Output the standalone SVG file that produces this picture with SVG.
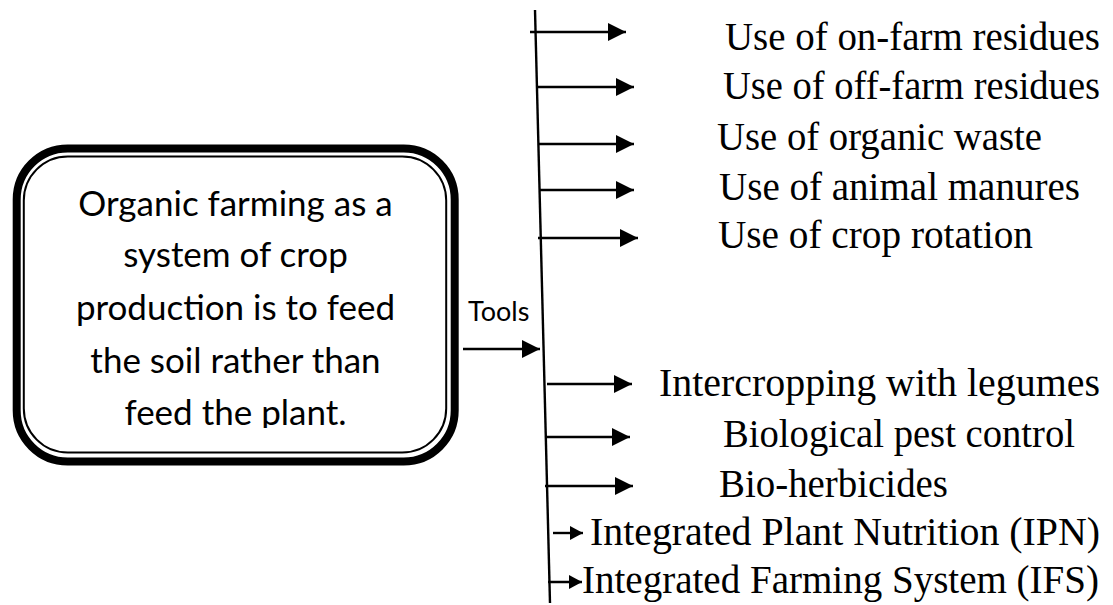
<svg xmlns="http://www.w3.org/2000/svg" width="1113" height="605" viewBox="0 0 1113 605">
  <style>
    .conn { stroke: #000; stroke-width: 2.4; fill: none; }
    .box-thick { fill: #fff; stroke: #000; stroke-width: 8; }
    .box-thin { fill: none; stroke: #000; stroke-width: 2; }
    .main { font-family: Lato, "Open Sans", "Liberation Sans", sans-serif; font-size: 35px; fill: #000; text-anchor: middle; }
    .tools { font-family: Lato, "Open Sans", "Liberation Sans", sans-serif; font-size: 27px; fill: #000; }
    .item { font-family: "Liberation Serif", "Times New Roman", serif; font-size: 40px; fill: #000; }
  </style>
  <defs>
    <marker id="ah" markerUnits="userSpaceOnUse" markerWidth="20" markerHeight="20" refX="18" refY="9" orient="auto" overflow="visible">
      <path d="M0,0 L18,9 L0,18 Z" fill="#000"/>
    </marker>
    <marker id="ahs" markerUnits="userSpaceOnUse" markerWidth="14" markerHeight="15" refX="13" refY="7" orient="auto" overflow="visible">
      <path d="M0,0 L13,7 L0,14 Z" fill="#000"/>
    </marker>
    <clipPath id="boxclip">
      <rect x="24" y="157" width="422" height="271"/>
    </clipPath>
  </defs>

  <g id="main-node">
    <rect class="box-thick" x="16.7" y="148.5" width="438" height="313" rx="51" ry="51"/>
    <rect class="box-thin" x="23.8" y="156.5" width="422.4" height="296" rx="44" ry="44"/>
    <g clip-path="url(#boxclip)">
      <text class="main" x="235.5" y="216">Organic farming as a</text>
      <text class="main" x="235.5" y="267">system of crop</text>
      <text class="main" x="235.5" y="320">production is to feed</text>
      <text class="main" x="235.5" y="373">the soil rather than</text>
      <text class="main" x="235.5" y="425">feed the plant.</text>
    </g>
  </g>

  <g id="tools-label">
    <text class="tools" x="468" y="321">Tools</text>
  </g>

  <g id="connectors">
    <line class="conn" x1="535" y1="10" x2="550" y2="603"/>
    <line class="conn" x1="463" y1="349" x2="540" y2="349" marker-end="url(#ah)"/>
    <line class="conn" x1="530" y1="32" x2="626" y2="32" marker-end="url(#ah)"/>
    <line class="conn" x1="538" y1="87" x2="634" y2="87" marker-end="url(#ah)"/>
    <line class="conn" x1="539" y1="144" x2="634" y2="144" marker-end="url(#ah)"/>
    <line class="conn" x1="539" y1="190" x2="634" y2="190" marker-end="url(#ah)"/>
    <line class="conn" x1="538" y1="238" x2="638" y2="238" marker-end="url(#ah)"/>
    <line class="conn" x1="547" y1="384" x2="632" y2="384" marker-end="url(#ah)"/>
    <line class="conn" x1="545" y1="437" x2="630" y2="437" marker-end="url(#ah)"/>
    <line class="conn" x1="545" y1="486" x2="633" y2="486" marker-end="url(#ah)"/>
    <line class="conn" x1="553" y1="533" x2="583" y2="533" marker-end="url(#ahs)"/>
    <line class="conn" x1="548" y1="582" x2="582" y2="582" marker-end="url(#ahs)"/>
  </g>

  <g id="item-1"><text class="item" x="725" y="50" textLength="375" lengthAdjust="spacingAndGlyphs">Use of on-farm residues</text></g>
  <g id="item-2"><text class="item" x="723" y="99" textLength="377" lengthAdjust="spacingAndGlyphs">Use of off-farm residues</text></g>
  <g id="item-3"><text class="item" x="717" y="150" textLength="325" lengthAdjust="spacingAndGlyphs">Use of organic waste</text></g>
  <g id="item-4"><text class="item" x="719" y="200" textLength="361" lengthAdjust="spacingAndGlyphs">Use of animal manures</text></g>
  <g id="item-5"><text class="item" x="718" y="248" textLength="315" lengthAdjust="spacingAndGlyphs">Use of crop rotation</text></g>
  <g id="item-6"><text class="item" x="659" y="396" textLength="441" lengthAdjust="spacingAndGlyphs">Intercropping with legumes</text></g>
  <g id="item-7"><text class="item" x="723" y="447" textLength="352" lengthAdjust="spacingAndGlyphs">Biological pest control</text></g>
  <g id="item-8"><text class="item" x="719" y="497" textLength="229" lengthAdjust="spacingAndGlyphs">Bio-herbicides</text></g>
  <g id="item-9"><text class="item" x="590" y="545" textLength="510" lengthAdjust="spacingAndGlyphs">Integrated Plant Nutrition (IPN)</text></g>
  <g id="item-10"><text class="item" x="582" y="593" textLength="517" lengthAdjust="spacingAndGlyphs">Integrated Farming System (IFS)</text></g>
</svg>
